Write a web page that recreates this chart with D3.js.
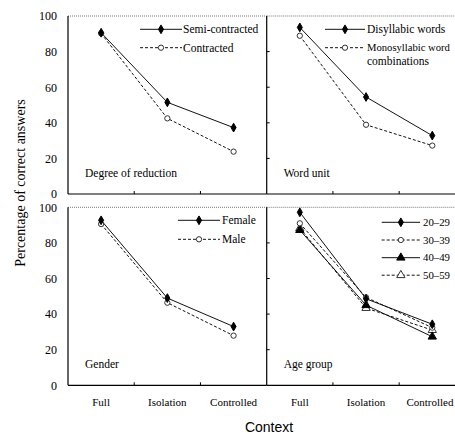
<!DOCTYPE html>
<html>
<head>
<meta charset="utf-8">
<script src="https://cdn.jsdelivr.net/npm/d3@7"></script>
<style>
  html, body { margin: 0; padding: 0; background: #fff; }
  svg { display: block; }
  text { font-family: "Liberation Serif", "Times New Roman", serif; fill: #000; }
</style>
</head>
<body>
<svg id="chart" width="455" height="434"></svg>
<script>
// ---- data ----
const contexts = ["Full", "Isolation", "Controlled"];
const yTicks = [0, 20, 40, 60, 80, 100];

const reductionSemi = [90.6, 51.5, 37.3];
const reductionContracted = [90.2, 42.5, 23.8];

const wordDisyllabic = [93.6, 54.5, 32.8];
const wordMonosyllabic = [88.9, 38.9, 27.2];

const genderFemale = [92.7, 49.0, 33.0];
const genderMale = [90.6, 46.4, 27.9];

const age2029 = [97.2, 48.6, 34.3];
const age3039 = [91.0, 49.4, 32.4];
const age4049 = [87.2, 45.0, 27.3];
const age5059 = [88.2, 43.4, 31.0];

const panelTitles = ["Degree of reduction", "Word unit", "Gender", "Age group"];

// ---- layout ----
const svg = d3.select("#chart");
const colL = [68, 266.7];
const colR = [266.7, 465.4];
const rowTop = [194, 16];
const rowBot = [385.3, 207.3];

const panels = [
  { title: panelTitles[0], xr: colL, yr: rowTop, left: true, bottomLabels: false,
    legend: { x1: 140, x2: 182, tx: 183, rows: [29.3, 47.7] },
    series: [
      { name: ["Semi-contracted"], values: reductionSemi, dash: null, marker: "diamondF" },
      { name: ["Contracted"], values: reductionContracted, dash: "3,2", marker: "circleO" }
    ] },
  { title: panelTitles[1], xr: colR, yr: rowTop, left: false, bottomLabels: false,
    legend: { x1: 325, x2: 365, tx: 367, rows: [29.3, 47.7] },
    series: [
      { name: ["Disyllabic words"], values: wordDisyllabic, dash: null, marker: "diamondF" },
      { name: ["Monosyllabic word", "combinations"], values: wordMonosyllabic, dash: "3,2", marker: "circleO" }
    ] },
  { title: panelTitles[2], xr: colL, yr: rowBot, left: true, bottomLabels: true,
    legend: { x1: 178, x2: 220, tx: 222, rows: [220.3, 239.3] },
    series: [
      { name: ["Female"], values: genderFemale, dash: null, marker: "diamondF" },
      { name: ["Male"], values: genderMale, dash: "3,2", marker: "circleO" }
    ] },
  { title: panelTitles[3], xr: colR, yr: rowBot, left: false, bottomLabels: true,
    legend: { x1: 381.7, x2: 420, tx: 423, rows: [222.3, 240, 257.7, 275.2] },
    series: [
      { name: ["20–29"], values: age2029, dash: null, marker: "diamondF" },
      { name: ["30–39"], values: age3039, dash: "3,2", marker: "circleO" },
      { name: ["40–49"], values: age4049, dash: null, marker: "triangleF" },
      { name: ["50–59"], values: age5059, dash: "3,2", marker: "triangleO" }
    ] }
];

function drawMarker(g, type, x, y) {
  let sym, size, filled;
  if (type === "diamondF") { sym = d3.symbolDiamond; size = 22; filled = true; }
  else if (type === "circleO") { sym = d3.symbolCircle; size = 22; filled = false; }
  else if (type === "triangleF") { sym = d3.symbolTriangle; size = 30; filled = true; }
  else { sym = d3.symbolTriangle; size = 30; filled = false; }
  g.append("path")
    .attr("d", d3.symbol().type(sym).size(size)())
    .attr("transform", `translate(${x},${y})`)
    .attr("fill", filled ? "#000" : "#fff")
    .attr("stroke", filled ? "#000" : "#333")
    .attr("stroke-width", 1);
}

const FS = "11.5px";
const W = 455;

panels.forEach(p => {
  const x = d3.scaleBand().domain(contexts).range(p.xr).padding(0);
  const y = d3.scaleLinear().domain([0, 100]).range(p.yr);
  const g = svg.append("g");

  // top dotted border
  g.append("line")
    .attr("x1", p.xr[0]).attr("x2", p.xr[1])
    .attr("y1", y(100)).attr("y2", y(100))
    .attr("stroke", "#777").attr("stroke-width", 1).attr("stroke-dasharray", "1,1");

  // y axis (vertical line)
  g.append("line")
    .attr("x1", p.xr[0]).attr("x2", p.xr[0])
    .attr("y1", y(100)).attr("y2", y(0))
    .attr("stroke", "#000").attr("stroke-width", 1.2);

  // y ticks (inward) on right panels
  if (!p.left) {
    yTicks.slice(1, 5).forEach(t => {
      g.append("line")
        .attr("x1", p.xr[0]).attr("x2", p.xr[0] + 3)
        .attr("y1", y(t)).attr("y2", y(t))
        .attr("stroke", "#000");
    });
  }

  // y tick labels on left panels
  if (p.left) {
    const ax = d3.axisLeft(y).tickValues(yTicks).tickSize(0).tickPadding(11);
    const ag = g.append("g").attr("transform", `translate(${p.xr[0]},0)`).call(ax);
    ag.select(".domain").remove();
    ag.selectAll("text").style("font-family", "Liberation Serif").style("font-size", "12px");
  }

  // x axis line
  g.append("line")
    .attr("x1", p.xr[0]).attr("x2", p.xr[1])
    .attr("y1", y(0)).attr("y2", y(0))
    .attr("stroke", "#000").attr("stroke-width", 1.2);

  // x ticks at band boundaries (inward/up)
  contexts.slice(1).forEach(c => {
    g.append("line")
      .attr("x1", x(c)).attr("x2", x(c))
      .attr("y1", y(0)).attr("y2", y(0) - 3)
      .attr("stroke", "#000");
  });

  // x labels
  if (p.bottomLabels) {
    const ax = d3.axisBottom(x).tickSize(0).tickPadding(13);
    const ag = g.append("g").attr("transform", `translate(0,${y(0)})`).call(ax);
    ag.select(".domain").remove();
    ag.selectAll("text").style("font-family", "Liberation Serif").style("font-size", "11px");
    // keep the last label inside the picture
    ag.selectAll("text").each(function () {
      const t = d3.select(this);
      const bb = this.getBBox();
      const tr = this.parentNode.getAttribute("transform");
      const tx = +tr.match(/translate\(([-\d.]+)/)[1];
      const right = tx + bb.x + bb.width;
      if (right > W - 1) t.attr("dx", (W - 1 - right) + "px");
    });
  }

  // title
  g.append("text")
    .attr("x", p.xr[0] + 17).attr("y", y(0) - 17)
    .style("font-size", FS)
    .text(p.title);

  // series
  const line = d3.line().x((d, i) => x(contexts[i]) + x.bandwidth() / 2).y(d => y(d));
  p.series.slice().reverse().forEach(s => {
    g.append("path")
      .attr("d", line(s.values))
      .attr("fill", "none")
      .attr("stroke", "#111")
      .attr("stroke-width", 1)
      .attr("stroke-dasharray", s.dash);
  });
  p.series.slice().reverse().forEach(s => {
    s.values.forEach((v, i) => drawMarker(g, s.marker, x(contexts[i]) + x.bandwidth() / 2, y(v)));
  });

  // legend
  p.series.forEach((s, i) => {
    const ly = p.legend.rows[i];
    g.append("line")
      .attr("x1", p.legend.x1).attr("x2", p.legend.x2)
      .attr("y1", ly).attr("y2", ly)
      .attr("stroke", "#111").attr("stroke-width", 1)
      .attr("stroke-dasharray", s.dash);
    drawMarker(g, s.marker, (p.legend.x1 + p.legend.x2) / 2, ly);
    s.name.forEach((nm, j) => {
      const t = g.append("text")
        .attr("x", p.legend.tx).attr("y", ly + j * 13.3)
        .attr("dy", "0.35em")
        .style("font-size", FS)
        .text(nm);
      const len = t.node().getComputedTextLength();
      const avail = W - 5 - p.legend.tx;
      if (len > avail) t.style("font-size", (11.5 * avail / len).toFixed(2) + "px");
    });
  });
});

// axis titles
svg.append("text")
  .attr("transform", "translate(25,183) rotate(-90)")
  .attr("text-anchor", "middle")
  .style("font-size", "14px")
  .text("Percentage of correct answers");

svg.append("text")
  .attr("x", 269).attr("y", 432)
  .attr("text-anchor", "middle")
  .style("font-family", "Liberation Sans, Arial, sans-serif")
  .style("font-size", "14px")
  .text("Context");
</script>
</body>
</html>
